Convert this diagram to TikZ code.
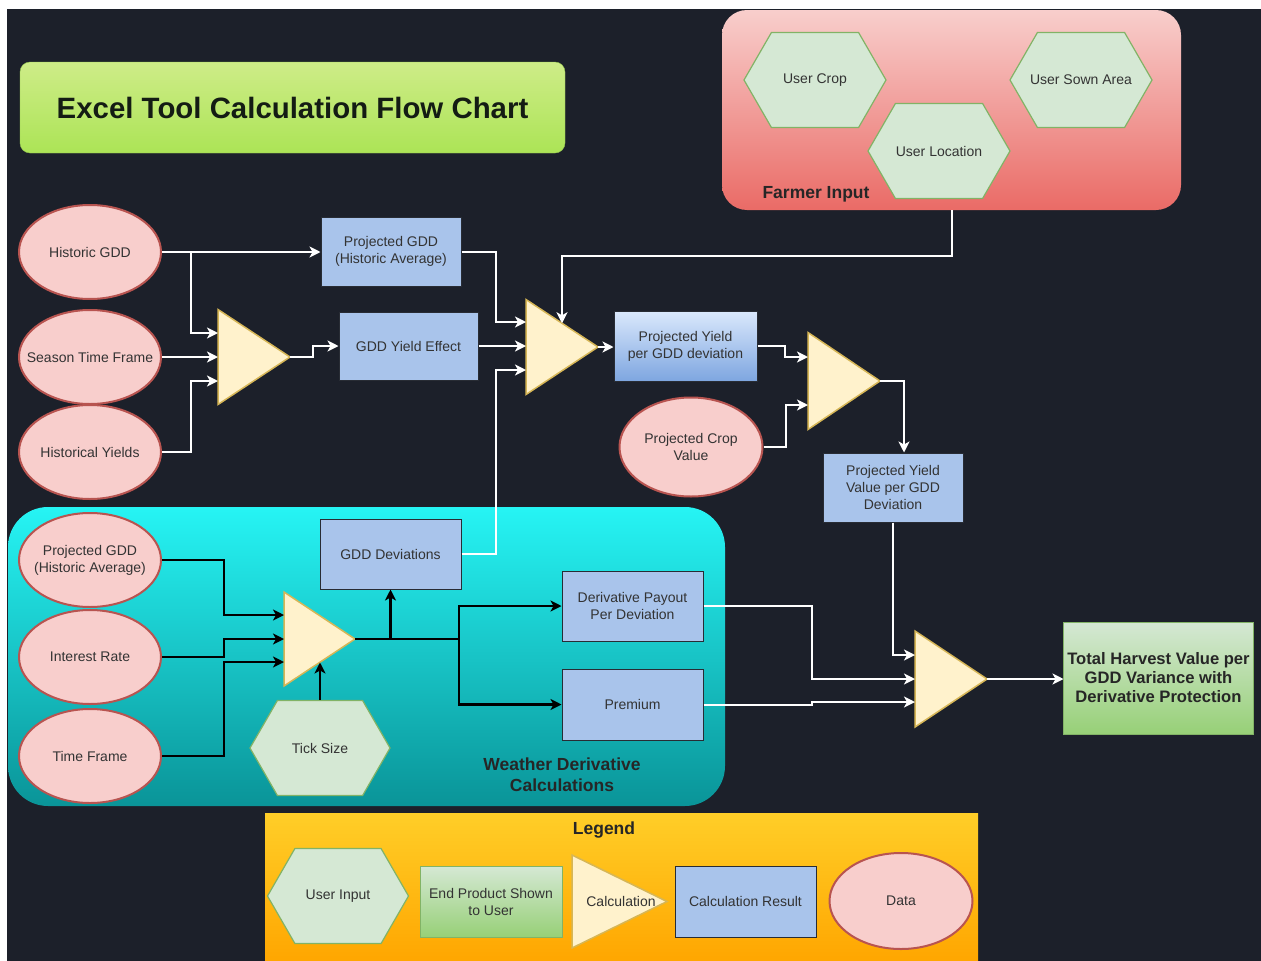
\documentclass[tikz,border=0pt]{standalone}
\usepackage{fontspec}
\setmainfont{Liberation Sans}
\usetikzlibrary{shapes.geometric,shapes.symbols,arrows.meta,calc}
\definecolor{bgc}{RGB}{28,32,42}
\definecolor{resf}{RGB}{169,196,235}
\definecolor{resd}{RGB}{40,44,52}
\definecolor{dataf}{RGB}{248,206,204}
\definecolor{datad}{RGB}{184,84,80}
\definecolor{calcf}{RGB}{255,242,204}
\definecolor{calcd}{RGB}{214,182,86}
\definecolor{hexf}{RGB}{213,232,212}
\definecolor{hexd}{RGB}{130,179,102}
\definecolor{txtc}{RGB}{51,51,51}
\tikzset{
 lbl/.style={font=\fontsize{14}{17}\selectfont, text=txtc, align=center},
 blbl/.style={font=\bfseries\fontsize{17.5}{21}\selectfont, text=black!85, align=center},
 data/.style={lbl, ellipse, draw=datad, fill=dataf, line width=2pt, minimum width=142pt, minimum height=94pt, inner xsep=-25pt, inner ysep=0pt},
 res/.style={lbl, rectangle, draw=resd, fill=resf, line width=1pt, minimum width=140pt, minimum height=69pt, inner sep=0pt},
 hexn/.style={lbl, signal, signal to=east and west, signal pointer angle=120, draw=hexd, fill=hexf, line width=1.2pt, minimum width=142pt, minimum height=95pt, inner xsep=-20pt, inner ysep=0pt},
 calcn/.style={isosceles triangle, isosceles triangle stretches, draw=calcd, fill=calcf, line width=1.5pt, minimum height=72pt, minimum width=95pt, inner sep=0pt, outer sep=0pt, anchor=west},
 wire/.style={draw=white, line width=2pt, -{Stealth[length=11pt,width=11pt,inset=3pt]}},
 bwire/.style={wire, draw=black, line width=2.6pt},
}
\begin{document}
\begin{tikzpicture}[x=1pt,y=-1pt]
\useasboundingbox (0,0) rectangle (1261,961);
\fill[white] (0,0) rectangle (1261,961);
\fill[bgc] (7,9) rectangle (1261,961);

% title
\node[rectangle, rounded corners=10pt, top color={rgb,255:red,206;green,236;blue,136}, bottom color={rgb,255:red,172;green,228;blue,86}, draw={rgb,255:red,150;green,200;blue,80}, minimum width=545pt, minimum height=91pt, font=\bfseries\fontsize{29.4}{32}\selectfont, text={rgb,255:red,20;green,28;blue,20}] (title) at (292.5,107.5) {Excel Tool Calculation Flow Chart};

% farmer input container
\node[rectangle, rounded corners=25pt, top color={rgb,255:red,248;green,206;blue,204}, bottom color={rgb,255:red,234;green,107;blue,102}, minimum width=459pt, minimum height=200pt] (farmer) at (951.5,110) {};
\node[blbl] (farmerlbl) at (816,194) {Farmer Input};
\node[hexn] (ucrop) at (815,80) {User Crop};
\node[hexn] (usown) at (1081,80) {User Sown Area};
\node[hexn] (uloc) at (939,151) {User Location};

% weather derivative container
\node[rectangle, rounded corners=40pt, top color={rgb,255:red,38;green,244;blue,244}, bottom color={rgb,255:red,10;green,148;blue,152}, minimum width=717pt, minimum height=299pt] (weather) at (366.5,656.5) {};
\node[blbl] (weatherlbl) at (562,775) {Weather Derivative\\Calculations};

% legend container
\node[rectangle, top color={rgb,255:red,255;green,206;blue,40}, bottom color={rgb,255:red,255;green,166;blue,0}, minimum width=713pt, minimum height=148pt] (legend) at (621.5,887) {};
\node[blbl] (legendlbl) at (604,830) {Legend};

% data ellipses
\node[data] (hgdd) at (90,252) {Historic GDD};
\node[data] (stf) at (90,357) {Season Time Frame};
\node[data] (hy) at (90,452) {Historical Yields};
\node[data] (pgdd2) at (90,560) {Projected GDD\\(Historic Average)};
\node[data] (ir) at (90,657) {Interest Rate};
\node[data] (tf) at (90,756) {Time Frame};
\node[data, minimum width=143pt, minimum height=99pt] (pcv) at (691,447) {Projected Crop\\Value};

% result boxes
\node[res] (pgdd) at (391,251.5) {Projected GDD\\(Historic Average)};
\node[res, minimum width=139pt, minimum height=68pt] (gye) at (408.5,346) {GDD Yield Effect};
\node[res, minimum width=143pt, minimum height=70pt, top color={rgb,255:red,218;green,232;blue,252}, bottom color={rgb,255:red,126;green,166;blue,224}] (pyd) at (685.5,346) {Projected Yield\\per GDD deviation};
\node[res] (pyv) at (893,487.5) {Projected Yield\\Value per GDD\\Deviation};
\node[res, minimum width=141pt, minimum height=70pt] (gddd) at (390.5,554) {GDD Deviations};
\node[res, minimum width=141pt, minimum height=70pt] (dpd) at (632.5,606) {Derivative Payout\\Per Deviation};
\node[res, minimum width=141pt, minimum height=71pt] (prem) at (632.5,704.5) {Premium};

% tick size
\node[hexn, minimum width=140pt] (tick) at (320,748) {Tick Size};

% calculations
\node[calcn] (t1) at (218,357) {};
\node[calcn] (t2) at (526,347) {};
\node[calcn, minimum width=97pt] (t3) at (808,381) {};
\node[calcn, minimum width=96pt] (t4) at (915,679) {};
\node[calcn, minimum height=71pt, minimum width=94pt] (t5) at (284,639) {};

% total
\node[rectangle, top color={rgb,255:red,213;green,232;blue,212}, bottom color={rgb,255:red,151;green,208;blue,119}, draw=hexd, line width=1pt, minimum width=189pt, minimum height=112pt, align=center, font=\bfseries\fontsize{16.6}{19}\selectfont, text=black!85] (tot) at (1158.5,678) {Total Harvest Value per\\GDD Variance with\\Derivative Protection};

% legend items
\node[hexn, minimum width=141pt] (luser) at (338,896) {User Input};
\node[rectangle, top color={rgb,255:red,213;green,232;blue,212}, bottom color={rgb,255:red,151;green,208;blue,119}, draw=hexd, line width=1pt, minimum width=142pt, minimum height=71pt, lbl] (lend) at (491,901.5) {End Product Shown\\to User};
\node[calcn, minimum height=95pt, minimum width=93pt] (ltri) at (572,901.5) {};
\node[lbl] (ltrilbl) at (621,901.5) {Calculation};
\node[res, minimum width=141pt, minimum height=71pt] (lres) at (745.5,901.5) {Calculation Result};
\node[data, minimum width=143pt, minimum height=96pt] (ldata) at (901,901) {Data};

% white connectors
\draw[wire] (hgdd.east) -- (hgdd.east -| pgdd.west);
\draw[wire] (hgdd.east) -- ++(29,0) |- ([yshift=24pt]t1.west);
\draw[wire] (stf.east) -- (t1.west);
\draw[wire] (hy.east) -- ++(29,0) |- ([yshift=-24pt]t1.west);
\draw[wire] (t1.apex) -- ++(23,0) |- (gye.west);
\draw[wire] (pgdd.east) -- ++(34,0) |- ([yshift=25pt]t2.west);
\draw[wire] (gye.east) -- (gye.east -| t2.west);
\draw[wire] (gddd.east) -- ++(34,0) |- ([yshift=-23pt]t2.west);
\coordinate (t2top) at ([yshift=23.75pt]$(t2.west)!0.5!(t2.apex)$);
\draw[wire] (farmer.south) -- ++(0,46) -| (t2top);
\draw[wire] (t2.apex) -- (t2.apex -| pyd.west);
\draw[wire] (pyd.east) -- ++(27,0) |- ([yshift=24pt]t3.west);
\draw[wire] (pcv.east) -- ++(22,0) |- ([yshift=-24pt]t3.west);
\draw[wire] (t3.apex) -| ([xshift=11pt]pyv.north);
\draw[wire] (pyv.south) |- ([yshift=24pt]t4.west);
\draw[wire] (dpd.east) -- ++(108,0) |- (t4.west);
\draw[wire] (prem.east) -- ++(108,0) |- ([yshift=-23pt]t4.west);
\draw[wire] (t4.apex) -- (t4.apex -| tot.west);

% black connectors
\draw[bwire] (pgdd2.east) -- ++(62,0) |- ([yshift=24pt]t5.west);
\draw[bwire] (ir.east) -- ++(62,0) |- (t5.west);
\draw[bwire] (tf.east) -- ++(62,0) |- ([yshift=-23pt]t5.west);
\coordinate (t5bot) at ([yshift=-23.5pt]$(t5.west)!0.5!(t5.apex)$);
\draw[bwire] (tick.north) -- (tick.north |- t5bot);
\draw[bwire] (t5.apex) -| (gddd.south);
\draw[bwire] (t5.apex) -- ++(104,0) |- (dpd.west);
\draw[bwire] (t5.apex) -- ++(104,0) |- (prem.west);
\end{tikzpicture}
\end{document}
